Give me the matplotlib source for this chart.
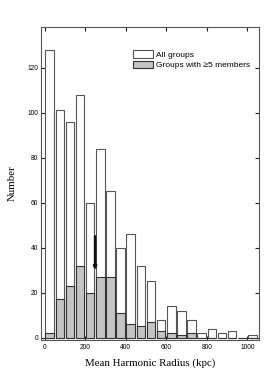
import matplotlib
matplotlib.use("Agg")
import matplotlib.pyplot as plt
import numpy as np

bin_centers = [25, 75, 125, 175, 225, 275, 325, 375, 425, 475, 525, 575, 625,
               675, 725, 775, 825, 875, 925, 975, 1025]
all_groups = [128, 101, 96, 108, 60, 84, 65, 40, 46, 32, 25, 8, 14, 12, 8, 2, 4,
              2, 3, 0, 1]
rich_groups = [2, 17, 23, 32, 20, 27, 27, 11, 6, 5, 7, 3, 2, 1, 2, 0, 0, 0, 0,
               0, 0]
xticks = [0, 200, 400, 600, 800, 1000]
yticks = [0, 20, 40, 60, 80, 100, 120]
arrow_x = 249
arrow_from, arrow_to = 45, 30

fig = plt.figure(figsize=(2.73, 3.92), dpi=100)
ax = fig.add_axes([0.150, 0.133, 0.799, 0.798])

bw = 42
ax.bar(bin_centers, all_groups, width=bw, color="white", edgecolor="#555555",
       linewidth=0.8, label="All groups", zorder=2)
ax.bar(bin_centers, rich_groups, width=bw, color="#c4c4c4", edgecolor="#333333",
       linewidth=0.8, label="Groups with \u22655 members", zorder=3)

ax.annotate("", xy=(arrow_x, arrow_to), xytext=(arrow_x, arrow_from),
            arrowprops=dict(arrowstyle="-|>", color="#111111", lw=1.8,
                            mutation_scale=4, shrinkA=0, shrinkB=0), zorder=4)

ax.set_xlim(-18, 1058)
ax.set_ylim(-1, 138)
ax.set_xticks(xticks)
ax.set_yticks(yticks)

tickfont = dict(family="Liberation Sans", size=4.8)
ax.set_xticklabels([str(v) for v in xticks], fontdict=tickfont)
ax.set_yticklabels([str(v) for v in yticks], fontdict=tickfont)
ax.tick_params(axis="both", which="major", direction="in", length=3,
               width=0.8, color="#222222", top=True, right=True, pad=2)
ax.tick_params(axis="x", which="major", pad=3)

for s in ax.spines.values():
    s.set_linewidth(0.8)
    s.set_color("#555555")

ax.set_xlabel("Mean Harmonic Radius (kpc)", family="Liberation Serif",
              fontsize=7.8, labelpad=5)
ax.set_ylabel("Number", family="Liberation Serif", fontsize=7.8, labelpad=8)

leg = ax.legend(loc="upper right", bbox_to_anchor=(0.985, 0.945), frameon=False,
                prop=dict(family="Liberation Sans", size=6),
                handlelength=2.3, handleheight=1.0, handletextpad=0.4,
                labelspacing=0.25, borderaxespad=0.3)

fig.savefig("out.png", dpi=100)
